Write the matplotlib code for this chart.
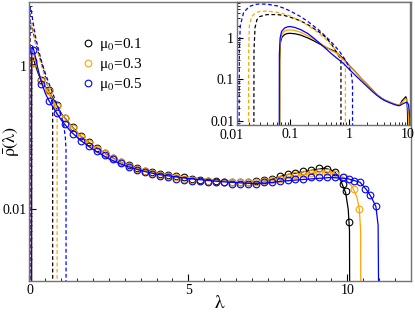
import matplotlib
matplotlib.use("Agg")
import matplotlib.pyplot as plt
from matplotlib.ticker import LogLocator, NullFormatter, FixedLocator
from matplotlib.transforms import blended_transform_factory

# ---- data ----
labels = ["μ$_0$=0.1", "μ$_0$=0.3", "μ$_0$=0.5"]
colors = ["black", "orange", "blue"]

# histogram points (circles)
lam_grid = [0.12, 0.37, 0.62, 0.87, 1.12, 1.37, 1.62, 1.87, 2.12, 2.37,
            2.62, 2.87, 3.12, 3.37, 3.62, 3.87, 4.12, 4.37, 4.62, 4.87,
            5.12, 5.37, 5.62, 5.87, 6.12, 6.37, 6.62, 6.87, 7.12, 7.37,
            7.62, 7.87, 8.12, 8.37, 8.62, 8.87, 9.12, 9.37, 9.62]

lam_pts_1 = lam_grid + [9.85, 9.95, 10.06]
rho_pts_1 = [1.2, 0.65, 0.47, 0.29, 0.19, 0.14, 0.105, 0.088, 0.072, 0.062,
             0.053, 0.046, 0.042, 0.038, 0.035, 0.033, 0.031, 0.030, 0.029, 0.028,
             0.027, 0.026, 0.025, 0.025, 0.024, 0.024, 0.024, 0.024, 0.025, 0.026,
             0.027, 0.029, 0.031, 0.032, 0.035, 0.036, 0.038, 0.037, 0.033,
             0.023, 0.018, 0.0066]

lam_pts_3 = lam_grid + [9.9, 10.2, 10.38]
rho_pts_3 = [1.1, 0.62, 0.45, 0.28, 0.19, 0.138, 0.104, 0.086, 0.071, 0.061,
             0.052, 0.046, 0.041, 0.037, 0.034, 0.032, 0.030, 0.029, 0.028, 0.027,
             0.026, 0.025, 0.025, 0.024, 0.024, 0.024, 0.024, 0.024, 0.024, 0.025,
             0.026, 0.027, 0.028, 0.030, 0.031, 0.032, 0.033, 0.033, 0.031,
             0.028, 0.0195, 0.010]

lam_pts_5 = lam_grid + [9.87, 10.05, 10.22, 10.4, 10.57, 10.73, 10.9]
rho_pts_5 = [1.7, 0.57, 0.33, 0.22, 0.155, 0.115, 0.091, 0.077, 0.065, 0.057,
             0.05, 0.044, 0.039, 0.036, 0.033, 0.031, 0.029, 0.028, 0.027, 0.026,
             0.025, 0.025, 0.024, 0.024, 0.024, 0.023, 0.023, 0.023, 0.023, 0.024,
             0.024, 0.025, 0.026, 0.027, 0.027, 0.028, 0.028, 0.028, 0.028,
             0.028, 0.027, 0.025, 0.024, 0.0195, 0.016, 0.011]

# theory (solid lines)
lam_th_1 = [0.0655, 0.066, 0.068, 0.072, 0.08, 0.09, 0.1, 0.12, 0.15, 0.2, 0.25,
            0.3, 0.4, 0.5, 0.6, 0.8, 1.0, 1.3, 1.6, 2.0, 2.5, 3.0, 3.5, 4.0,
            5.0, 6.0, 7.0, 7.5, 8.0, 8.5, 9.0, 9.3, 9.6, 9.8, 9.95, 10.03,
            10.07, 10.08]
rho_th_1 = [1e-4, 0.3, 0.8, 1.05, 1.22, 1.29, 1.3, 1.27, 1.18, 1.0, 0.86,
            0.75, 0.6, 0.52, 0.46, 0.32, 0.22, 0.15, 0.107, 0.078, 0.056, 0.043, 0.036, 0.032,
            0.028, 0.025, 0.024, 0.025, 0.030, 0.033, 0.036, 0.038, 0.034, 0.025, 0.017, 0.010,
            0.005, 1e-4]

lam_th_3 = [0.0655, 0.066, 0.068, 0.072, 0.08, 0.09, 0.1, 0.12, 0.15, 0.2, 0.25,
            0.3, 0.4, 0.5, 0.6, 0.8, 1.0, 1.3, 1.6, 2.0, 2.5, 3.0, 3.5, 4.0,
            5.0, 6.0, 7.0, 7.5, 8.0, 8.5, 9.0, 9.3, 9.6, 9.9, 10.15, 10.3,
            10.38, 10.42, 10.43]
rho_th_3 = [1e-4, 0.35, 0.9, 1.25, 1.48, 1.56, 1.58, 1.52, 1.38, 1.13, 0.95,
            0.8, 0.62, 0.5, 0.44, 0.3, 0.215, 0.148, 0.106, 0.077, 0.055, 0.043, 0.036, 0.032,
            0.028, 0.025, 0.024, 0.025, 0.027, 0.030, 0.033, 0.034, 0.032, 0.028, 0.021, 0.015,
            0.010, 0.005, 1e-4]

lam_th_5 = [0.0645, 0.065, 0.067, 0.071, 0.08, 0.09, 0.1, 0.12, 0.15, 0.2, 0.25,
            0.3, 0.4, 0.5, 0.6, 0.8, 1.0, 1.3, 1.6, 2.0, 2.5, 3.0, 3.5, 4.0,
            5.0, 6.0, 7.0, 7.5, 8.0, 8.5, 9.0, 9.5, 10.0, 10.4, 10.6, 10.75,
            10.9, 10.97, 11.0]
rho_th_5 = [1e-4, 0.4, 1.0, 1.45, 1.75, 1.87, 1.9, 1.8, 1.6, 1.28, 1.0,
            0.8, 0.56, 0.42, 0.34, 0.245, 0.178, 0.123, 0.093, 0.069, 0.051, 0.041, 0.035, 0.031,
            0.027, 0.0245, 0.023, 0.0235, 0.025, 0.026, 0.027, 0.028, 0.027, 0.024, 0.019, 0.015,
            0.011, 0.006, 1e-4]

# dashed curves
lam_d_1 = [0.0238, 0.024, 0.025, 0.027, 0.03, 0.04, 0.06, 0.08, 0.1, 0.15, 0.2,
           0.3, 0.4, 0.5, 0.6, 0.7, 0.73, 0.7305]
rho_d_1 = [1e-4, 0.5, 1.8, 2.8, 3.3, 3.7, 3.7, 3.5, 3.2, 2.6, 2.1,
           1.45, 1.05, 0.72, 0.48, 0.33, 0.28, 1e-4]

lam_d_3 = [0.0193, 0.0195, 0.02, 0.022, 0.025, 0.03, 0.04, 0.06, 0.08, 0.1, 0.15,
           0.2, 0.3, 0.4, 0.5, 0.6, 0.7, 0.8, 0.87, 0.8705]
rho_d_3 = [1e-4, 0.5, 2.0, 3.3, 4.0, 4.4, 4.5, 4.2, 3.8, 3.4, 2.6,
           2.0, 1.35, 0.95, 0.68, 0.5, 0.36, 0.27, 0.2, 1e-4]

lam_d_5 = [0.0133, 0.0135, 0.014, 0.016, 0.02, 0.025, 0.03, 0.04, 0.06, 0.08, 0.1,
           0.15, 0.2, 0.3, 0.4, 0.5, 0.6, 0.7, 0.8, 0.9, 1.0, 1.08, 1.13, 1.15, 1.152]
rho_d_5 = [1e-4, 0.5, 2.0, 4.2, 5.8, 6.5, 6.7, 6.6, 6.0, 5.2, 4.5,
           3.3, 2.5, 1.6, 1.1, 0.8, 0.6, 0.46, 0.35, 0.27, 0.2, 0.15, 0.1, 0.07, 1e-4]

pts = [(lam_pts_1, rho_pts_1), (lam_pts_3, rho_pts_3), (lam_pts_5, rho_pts_5)]
theory = [(lam_th_1, rho_th_1), (lam_th_3, rho_th_3), (lam_th_5, rho_th_5)]
dashed = [(lam_d_1, rho_d_1), (lam_d_3, rho_d_3), (lam_d_5, rho_d_5)]

plt.rcParams["font.family"] = ["Liberation Serif", "DejaVu Serif"]
plt.rcParams["mathtext.fontset"] = "stix"

spine_col = "0.45"

fig = plt.figure(figsize=(4.15, 3.16), dpi=100)
ax = fig.add_axes([0.071, 0.111, 0.919, 0.883])

for (lt, rt), (ld, rd), (lp, rp), c, lab in zip(theory, dashed, pts, colors, labels):
    ax.plot(ld, rd, ls=(0, (3, 2)), color=c, lw=0.9)
    ax.plot(lt, rt, color=c, lw=0.9)
    ax.plot(lp, rp, ls="none", marker="o", mfc="none", mec=c, ms=4.8, mew=0.8, label=lab)

ax.set_yscale("log")
ax.set_xlim(0, 12)
ax.set_ylim(1e-3, 8)
ax.set_xticks([0, 5, 10])
ax.set_xticks([0.5 * i for i in range(25)], minor=True)
ax.yaxis.set_major_locator(FixedLocator([0.01, 1]))
ax.yaxis.set_minor_locator(LogLocator(base=10, subs=range(1, 10), numticks=20))
ax.yaxis.set_minor_formatter(NullFormatter())
ax.set_yticklabels(["0.01", "1"])
ax.tick_params(which="both", direction="in", labelsize=10, colors="black", pad=2)
ax.tick_params(which="major", length=5, width=0.8)
ax.tick_params(which="minor", length=2.5, width=0.6)
for s in ax.spines.values():
    s.set_color(spine_col)
    s.set_linewidth(1.0)
ax.set_xlabel(r"$\mathrm{\lambda}$", fontsize=14, labelpad=-1)
ax.set_ylabel(r"$\bar{\mathrm{\rho}}(\mathrm{\lambda})$", fontsize=13)
ax.yaxis.set_label_coords(-0.022, 0.5)

leg = ax.legend(loc="upper left", bbox_to_anchor=(0.105, 0.915), frameon=False,
                fontsize=11, handletextpad=0.2, borderpad=0.2, labelspacing=0.2,
                handlelength=1.0)

# inset
axi = fig.add_axes([0.571, 0.604, 0.417, 0.39])
for (lt, rt), (ld, rd), c in zip(theory, dashed, colors):
    axi.plot(ld, rd, ls=(0, (3, 2)), color=c, lw=0.9)
    axi.plot(lt, rt, color=c, lw=0.9)
axi.set_xscale("log")
axi.set_yscale("log")
axi.set_xlim(0.0123, 11)
axi.set_ylim(0.0078, 7.5)
axi.xaxis.set_major_locator(FixedLocator([0.1, 1, 10]))
axi.set_xticklabels(["0.1", "1", "10"])
axi.yaxis.set_major_locator(FixedLocator([0.01, 0.1, 1]))
axi.set_yticklabels(["0.01", "0.1", "1"])
axi.xaxis.set_minor_locator(LogLocator(base=10, subs=range(1, 10), numticks=20))
axi.yaxis.set_minor_locator(LogLocator(base=10, subs=range(1, 10), numticks=20))
axi.xaxis.set_minor_formatter(NullFormatter())
axi.yaxis.set_minor_formatter(NullFormatter())
axi.tick_params(which="both", direction="in", labelsize=10, pad=2)
axi.tick_params(which="major", length=4, width=0.8)
axi.tick_params(which="minor", length=2, width=0.6)
for s in axi.spines.values():
    s.set_color(spine_col)
    s.set_linewidth(1.0)
# the 0.01 label sits just left of the inset frame
trans = blended_transform_factory(axi.transData, axi.transAxes)
axi.text(0.01, -0.035, "0.01", transform=trans, ha="center", va="top",
         fontsize=10, clip_on=False)

fig.savefig("out.png", dpi=100)
